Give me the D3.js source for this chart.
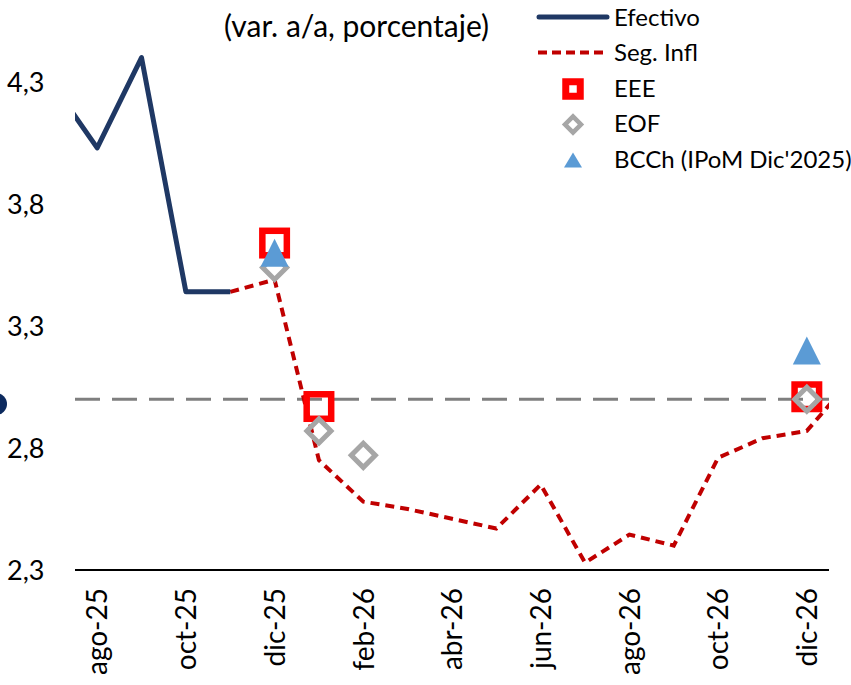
<!DOCTYPE html>
<html>
<head>
<meta charset="utf-8">
<script src="https://cdn.jsdelivr.net/npm/d3@7"></script>
<style>
  body { margin: 0; background: #fff; }
  svg { display: block; }
  text { font-family: Lato, "Liberation Sans", sans-serif; fill: #000; }
</style>
</head>
<body>
<div id="chart"></div>
<script>
// months, jul-25 and ene-27 sit outside the plot and are clipped
const months = ["jul-25","ago-25","sep-25","oct-25","nov-25","dic-25","ene-26","feb-26","mar-26","abr-26",
                "may-26","jun-26","jul-26","ago-26","sep-26","oct-26","nov-26","dic-26","ene-27"];
const efectivo = [4.29, 4.03, 4.40, 3.44, 3.44, null, null, null, null, null, null, null, null, null, null, null, null, null, null];
const segInfl  = [null, null, null, null, 3.44, 3.49, 2.75, 2.58, 2.55, 2.51, 2.47, 2.65, 2.33, 2.445, 2.40, 2.76, 2.84, 2.87, 3.08];

const eeeMonths  = ["dic-25","ene-26","dic-26"];
const eeeValues  = [3.64, 2.97, 3.01];
const eofMonths  = ["dic-25","ene-26","feb-26","dic-26"];
const eofValues  = [3.54, 2.87, 2.77, 3.00];
const bcchMonths = ["dic-25","dic-26"];
const bcchValues = [3.60, 3.20];

const meta = 3.0;
const yTicks = [2.3, 2.8, 3.3, 3.8, 4.3];
const xTickLabels = ["ago-25","oct-25","dic-25","feb-26","abr-26","jun-26","ago-26","oct-26","dic-26"];

const W = 851, H = 685;
const left = 75, right = 829, bottom = 570;
const visible = 17;
const step = (right - left) / visible;

const svg = d3.select("#chart").append("svg")
  .attr("width", W).attr("height", H);

const x = d3.scalePoint().domain(months).range([left - step / 2, right + step / 2]);
const y = d3.scaleLinear().domain([2.3, 4.5]).range([bottom, bottom - 2.2 * 244]);

svg.append("clipPath").attr("id", "plot")
  .append("rect").attr("x", left).attr("y", 0).attr("width", right - left).attr("height", H);

// y labels
const yAxis = svg.append("g")
  .call(d3.axisLeft(y).tickValues(yTicks).tickSize(0).tickFormat(d => d3.format(".1f")(d).replace(".", ",")));
yAxis.select(".domain").remove();
yAxis.selectAll("text")
  .attr("x", 7).attr("dy", "0.35em")
  .style("text-anchor", "start")
  .style("font-size", "27px")
  .style("font-family", "Lato, 'Liberation Sans', sans-serif");

// x labels
const xAxis = svg.append("g")
  .attr("transform", `translate(0,${bottom})`)
  .call(d3.axisBottom(x).tickValues(xTickLabels).tickSize(0));
xAxis.select(".domain").remove();
xAxis.selectAll("text")
  .attr("transform", "rotate(-90)")
  .attr("x", -18).attr("y", 0).attr("dy", "0.35em")
  .style("text-anchor", "end")
  .style("font-size", "28px")
  .style("font-family", "Lato, 'Liberation Sans', sans-serif");

// baseline
svg.append("line")
  .attr("x1", left).attr("x2", right).attr("y1", bottom).attr("y2", bottom)
  .attr("stroke", "#000").attr("stroke-width", 2);

const plot = svg.append("g").attr("clip-path", "url(#plot)");

// meta 3%
plot.append("line")
  .attr("x1", left).attr("x2", right).attr("y1", y(meta)).attr("y2", y(meta))
  .attr("stroke", "#7f7f7f").attr("stroke-width", 3).attr("stroke-dasharray", "25,12");

const line = d3.line()
  .defined(d => d[1] != null)
  .x(d => x(d[0])).y(d => y(d[1]));

plot.append("path")
  .datum(months.map((m, i) => [m, segInfl[i]]))
  .attr("d", line)
  .attr("fill", "none").attr("stroke", "#c00000").attr("stroke-width", 4)
  .attr("stroke-dasharray", "9,6");

plot.append("path")
  .datum(months.map((m, i) => [m, efectivo[i]]))
  .attr("d", line)
  .attr("fill", "none").attr("stroke", "#1f3864").attr("stroke-width", 5)
  .attr("stroke-linejoin", "round");

// markers
function square(g, s, sw) {
  return g.append("rect").attr("x", -s / 2).attr("y", -s / 2).attr("width", s).attr("height", s)
    .attr("fill", "none").attr("stroke", "#ff0000").attr("stroke-width", sw);
}
function diamond(g, s, sw) {
  return g.append("rect").attr("x", -s / 2).attr("y", -s / 2).attr("width", s).attr("height", s)
    .attr("transform", "rotate(45)")
    .attr("fill", "#fff").attr("fill-opacity", 0).attr("stroke", "#a6a6a6").attr("stroke-width", sw);
}
function triangle(g, w, h) {
  return g.append("path").attr("d", `M0,${-h / 2}L${w / 2},${h / 2}L${-w / 2},${h / 2}Z`)
    .attr("fill", "#5b9bd5");
}

plot.selectAll(".eee").data(eeeMonths).join("g")
  .attr("transform", (m, i) => `translate(${x(m)},${y(eeeValues[i])})`)
  .each(function () { square(d3.select(this), 24.5, 6.5); });

plot.selectAll(".eof").data(eofMonths).join("g")
  .attr("transform", (m, i) => `translate(${x(m)},${y(eofValues[i])})`)
  .each(function () { diamond(d3.select(this), 17, 5); });

plot.selectAll(".bcch").data(bcchMonths).join("g")
  .attr("transform", (m, i) => `translate(${x(m)},${y(bcchValues[i])})`)
  .each(function () { triangle(d3.select(this), 28, 28); });

// clipped dot on the left edge
svg.append("circle").attr("cx", -4).attr("cy", 404).attr("r", 11).attr("fill", "#0c2a5e");

// title
svg.append("text").attr("x", 224).attr("y", 37)
  .style("font-size", "30px").text("(var. a/a, porcentaje)");

// legend
const legend = svg.append("g");
const rows = [
  { label: "Efectivo", kind: "solid" },
  { label: "Seg. Infl", kind: "dash" },
  { label: "EEE", kind: "square" },
  { label: "EOF", kind: "diamond" },
  { label: "BCCh (IPoM Dic'2025)", kind: "triangle" }
];
rows.forEach((r, i) => {
  const base = 25.5 + i * 35.5, cy = base - 8.5;
  const g = legend.append("g");
  if (r.kind === "solid") {
    g.append("line").attr("x1", 539).attr("x2", 607).attr("y1", cy).attr("y2", cy)
      .attr("stroke", "#1f3864").attr("stroke-width", 5).attr("stroke-linecap", "round");
  } else if (r.kind === "dash") {
    g.append("line").attr("x1", 538).attr("x2", 608).attr("y1", cy).attr("y2", cy)
      .attr("stroke", "#c00000").attr("stroke-width", 4).attr("stroke-dasharray", "9,5");
  } else {
    const m = g.append("g").attr("transform", `translate(573,${cy + 1})`);
    if (r.kind === "square") square(m, 14.5, 7);
    if (r.kind === "diamond") diamond(m, 11.3, 4.5);
    if (r.kind === "triangle") triangle(m, 18, 15);
  }
  g.append("text").attr("x", 614).attr("y", base)
    .style("font-size", "24px").text(r.label);
});
</script>
</body>
</html>
